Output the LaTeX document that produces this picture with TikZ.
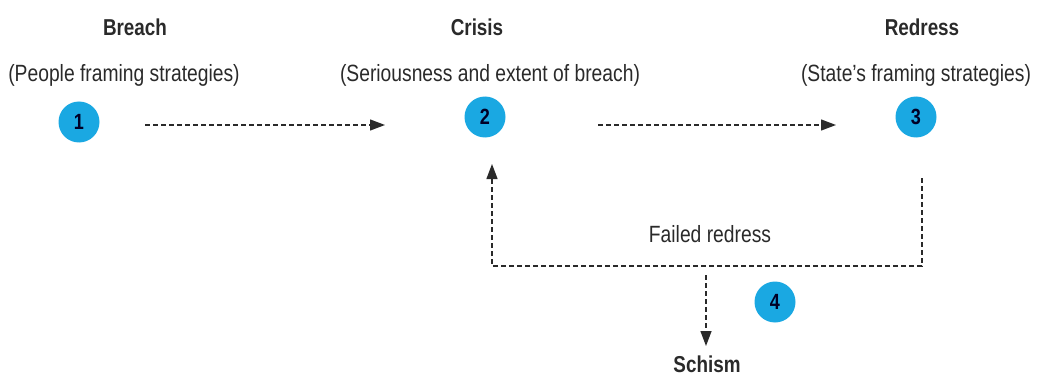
\documentclass[tikz,border=0pt]{standalone}
\usepackage{fontspec}
\setmainfont{Liberation Sans}[FakeStretch=0.82]
\usetikzlibrary{arrows.meta}
\definecolor{circ}{HTML}{1AA8E2}
\definecolor{ink}{HTML}{2A2A2A}
\tikzset{
  title/.style={font=\fontsize{23}{25}\selectfont\bfseries, text=ink, inner sep=0pt},
  sub/.style={font=\fontsize{23.5}{26}\selectfont, text=ink, inner sep=0pt},
  num/.style={circle, fill=circ, minimum size=41pt, inner sep=0pt, font=\fontsize{22}{24}\selectfont\bfseries, text=black!85!blue},
  flow/.style={draw=ink, line width=1.3pt, dash pattern=on 5pt off 3pt, -{Triangle[length=15pt,width=11pt]}},
}
\begin{document}
\begin{tikzpicture}[x=1pt,y=-1pt]
\useasboundingbox (0,0) rectangle (1038,377);
\node[title] (t1) at (135,27) {Breach};
\node[sub] (s1) at (124,75) {(People framing strategies)};
\node[num] (n1) at (79,122) {1};
\node[title] (t2) at (477,27) {Crisis};
\node[sub] (s2) at (490,75) {(Seriousness and extent of breach)};
\node[num] (n2) at (485,117) {2};
\node[title] (t3) at (922,27) {Redress};
\node[sub] (s3) at (916,75) {(State’s framing strategies)};
\node[num] (n3) at (916,117) {3};
\node[num] (n4) at (775,302) {4};
\node[sub] (fr) at (710,234) {Failed redress};
\node[title] (sc) at (707,364) {Schism};
\coordinate (a1s) at (145,125);
\coordinate (a1e) at (385,125);
\coordinate (a2s) at (598,125);
\coordinate (a2e) at (836,125);
\coordinate (r1) at (922,178);
\coordinate (r2) at (922,266);
\coordinate (l1) at (492,266);
\coordinate (l2) at (492,164);
\coordinate (s0) at (706,275);
\coordinate (s1e) at (706,346);
\draw[flow] (a1s) -- (a1e);
\draw[flow] (a2s) -- (a2e);
\draw[flow] (r1) -- (r2) -- (l1) -- (l2);
\draw[flow] (s0) -- (s1e);
\end{tikzpicture}
\end{document}
